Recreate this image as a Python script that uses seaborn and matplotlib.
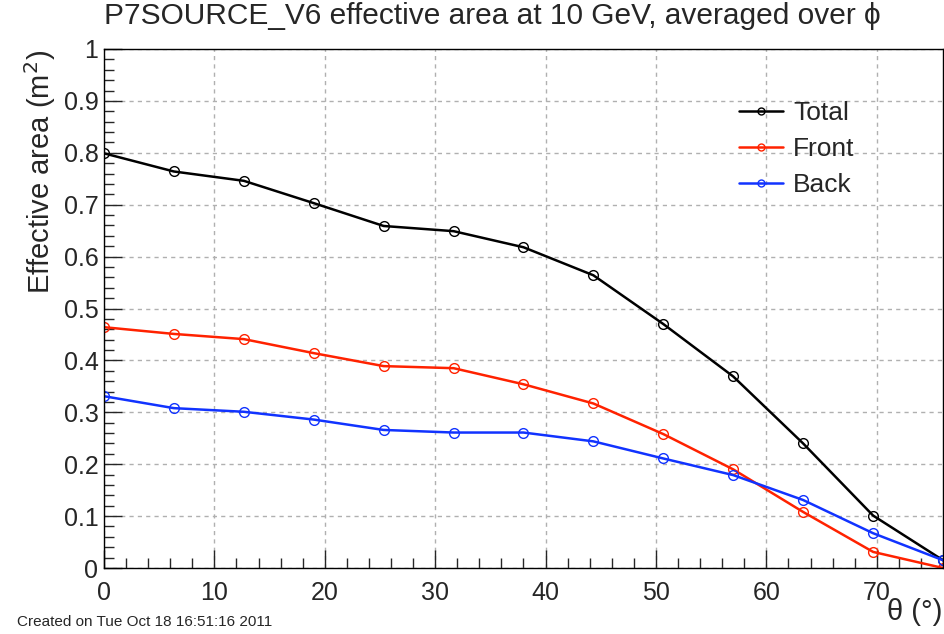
import matplotlib
matplotlib.use("Agg")
import matplotlib.pyplot as plt
import seaborn as sns
import pandas as pd
from matplotlib.ticker import MultipleLocator
from matplotlib.lines import Line2D

theta = [0.0, 6.33, 12.67, 19.0, 25.33, 31.67, 38.0, 44.33, 50.67, 57.0, 63.33, 69.67, 76.0]
total = [0.799, 0.764, 0.746, 0.703, 0.659, 0.649, 0.618, 0.564, 0.470, 0.369, 0.240, 0.101, 0.015]
front = [0.464, 0.451, 0.441, 0.414, 0.389, 0.385, 0.354, 0.317, 0.258, 0.190, 0.108, 0.031, 0.000]
back = [0.331, 0.308, 0.301, 0.286, 0.266, 0.261, 0.261, 0.244, 0.211, 0.179, 0.131, 0.067, 0.015]
series_names = ["Total", "Front", "Back"]
colors = {"Total": "#000000", "Front": "#ff2200", "Back": "#1133ff"}

df = pd.concat([
    pd.DataFrame({"theta": theta, "area": vals, "series": name})
    for name, vals in zip(series_names, [total, front, back])
], ignore_index=True)

sns.set_style("white")
plt.rcParams["font.family"] = ["Liberation Sans", "DejaVu Sans"]

fig = plt.figure(figsize=(9.45, 6.34), dpi=100)
ax = fig.add_axes([104/945, 1-568/634, (943-104)/945, (568-49)/634])

sns.lineplot(data=df, x="theta", y="area", hue="series", hue_order=series_names,
             palette=colors, marker="o", markersize=7, markerfacecolor="none",
             markeredgewidth=1.0, linewidth=1.8, ax=ax, legend=False)
for line, name in zip(ax.get_lines(), series_names):
    line.set_markeredgecolor(colors[name])
    line.set_markerfacecolor("none")

ax.set_xlim(0, 76)
ax.set_ylim(0, 1)
ax.xaxis.set_major_locator(MultipleLocator(10))
ax.xaxis.set_minor_locator(MultipleLocator(2))
ax.yaxis.set_minor_locator(MultipleLocator(0.02))
ax.set_yticks([i/10 for i in range(11)])
ax.set_yticklabels(["0"] + [f"{i/10:.1f}" for i in range(1, 10)] + ["1"])
ax.tick_params(which="major", direction="in", length=13, width=1, labelsize=18,
               bottom=True, left=True, top=False, right=False)
ax.tick_params(axis="x", which="major", pad=9)
ax.tick_params(axis="y", which="major", pad=4)
ax.tick_params(which="minor", direction="in", length=7, width=1,
               bottom=True, left=True, top=False, right=False)
ax.grid(True, which="major", linestyle=(0, (3, 3)), color="#b0b0b0", linewidth=1)
for sp in ax.spines.values():
    sp.set_color("black")
    sp.set_linewidth(1)

ax.set_xlabel("")
ax.set_ylabel("")
fig.text(40/945, 1-50/634, "Effective area (m$^2$)", rotation=90, ha="center", va="top",
         fontsize=21)
fig.text(942/945, 1-612/634, "θ (°)", ha="right", va="center", fontsize=21)
fig.text(104/945, 1-16/634, "P7SOURCE_V6 effective area at 10 GeV, averaged over ϕ",
         ha="left", va="center", fontsize=21.5)
fig.text(17/945, 1-622/634, "Created on Tue Oct 18 16:51:16 2011", ha="left", va="center",
         fontsize=11)

handles = [Line2D([], [], color=colors[n], marker="o", markersize=5, markerfacecolor="none",
                  markeredgecolor=colors[n], linewidth=1.8) for n in series_names]
ax.legend(handles, series_names, loc="upper left", bbox_to_anchor=(635/839, 1-52/519),
          frameon=False, fontsize=19, handlelength=1.65, handletextpad=0.4,
          labelspacing=0.45, borderaxespad=0, borderpad=0)

fig.savefig("out.png", dpi=100)
